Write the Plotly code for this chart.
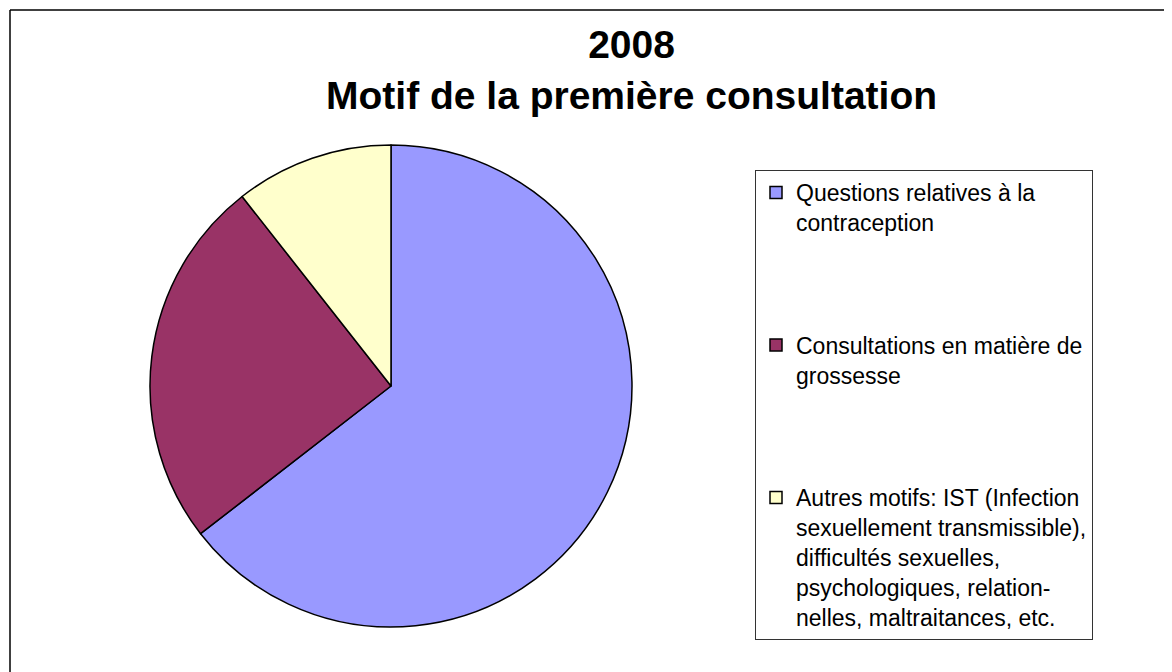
import plotly.graph_objects as go

labels = [
    "Questions relatives à la<br>contraception",
    "Consultations en matière de<br>grossesse",
    "Autres motifs: IST (Infection<br>sexuellement transmissible),<br>difficultés sexuelles,<br>psychologiques, relation-<br>nelles, maltraitances, etc.",
]
values = [64.5, 24.9, 10.6]
colors = ["#9999FF", "#993366", "#FFFFCC"]
title_lines = ["2008", "Motif de la première consultation"]

# page body has an 8px margin; figure fills the rest of the window
OFF = 8
W, H = 1172 - OFF, 672 - OFF
pad = "<br>\u00a0<br>\u00a0<br>\u00a0"
legend_labels = [labels[0] + pad, labels[1] + pad, labels[2]]

cx, cy, r = 391 - OFF, 386 - OFF, 241
fig = go.Figure(go.Pie(
    labels=legend_labels,
    values=values,
    marker=dict(colors=colors, line=dict(color="black", width=1.5)),
    sort=False,
    direction="clockwise",
    rotation=0,
    textinfo="none",
    hoverinfo="label+percent",
    domain=dict(x=[(cx - r) / W, (cx + r) / W], y=[(H - cy - r) / H, (H - cy + r) / H]),
))

bx, by = (10 - OFF) / W, (H - (10 - OFF)) / H
fig.update_layout(
    width=W, height=H,
    margin=dict(l=0, r=0, t=0, b=0),
    paper_bgcolor="white",
    font=dict(family="Arial, Liberation Sans, sans-serif", color="black"),
    showlegend=True,
    legend=dict(
        x=(755 - OFF) / W, y=(H - (170 - OFF)) / H, xanchor="left", yanchor="top",
        bordercolor="#333333", borderwidth=1, bgcolor="white",
        font=dict(size=23, family="Arial, Liberation Sans, sans-serif", color="black"),
        valign="top", traceorder="normal",
    ),
    annotations=[dict(
        text="<b>" + "<br>".join(title_lines) + "</b>",
        xref="paper", yref="paper", x=(631 - OFF) / W, y=(H - (70 - OFF)) / H,
        xanchor="center", yanchor="middle", showarrow=False,
        font=dict(size=39, family="Arial, Liberation Sans, sans-serif", color="black"),
    )],
    shapes=[
        dict(type="line", xref="paper", yref="paper", x0=bx, y0=by, x1=1.2, y1=by,
             line=dict(color="black", width=1.5), layer="above"),
        dict(type="line", xref="paper", yref="paper", x0=bx, y0=by, x1=bx, y1=-0.2,
             line=dict(color="black", width=1.5), layer="above"),
    ],
)

fig.write_html("out.html")
